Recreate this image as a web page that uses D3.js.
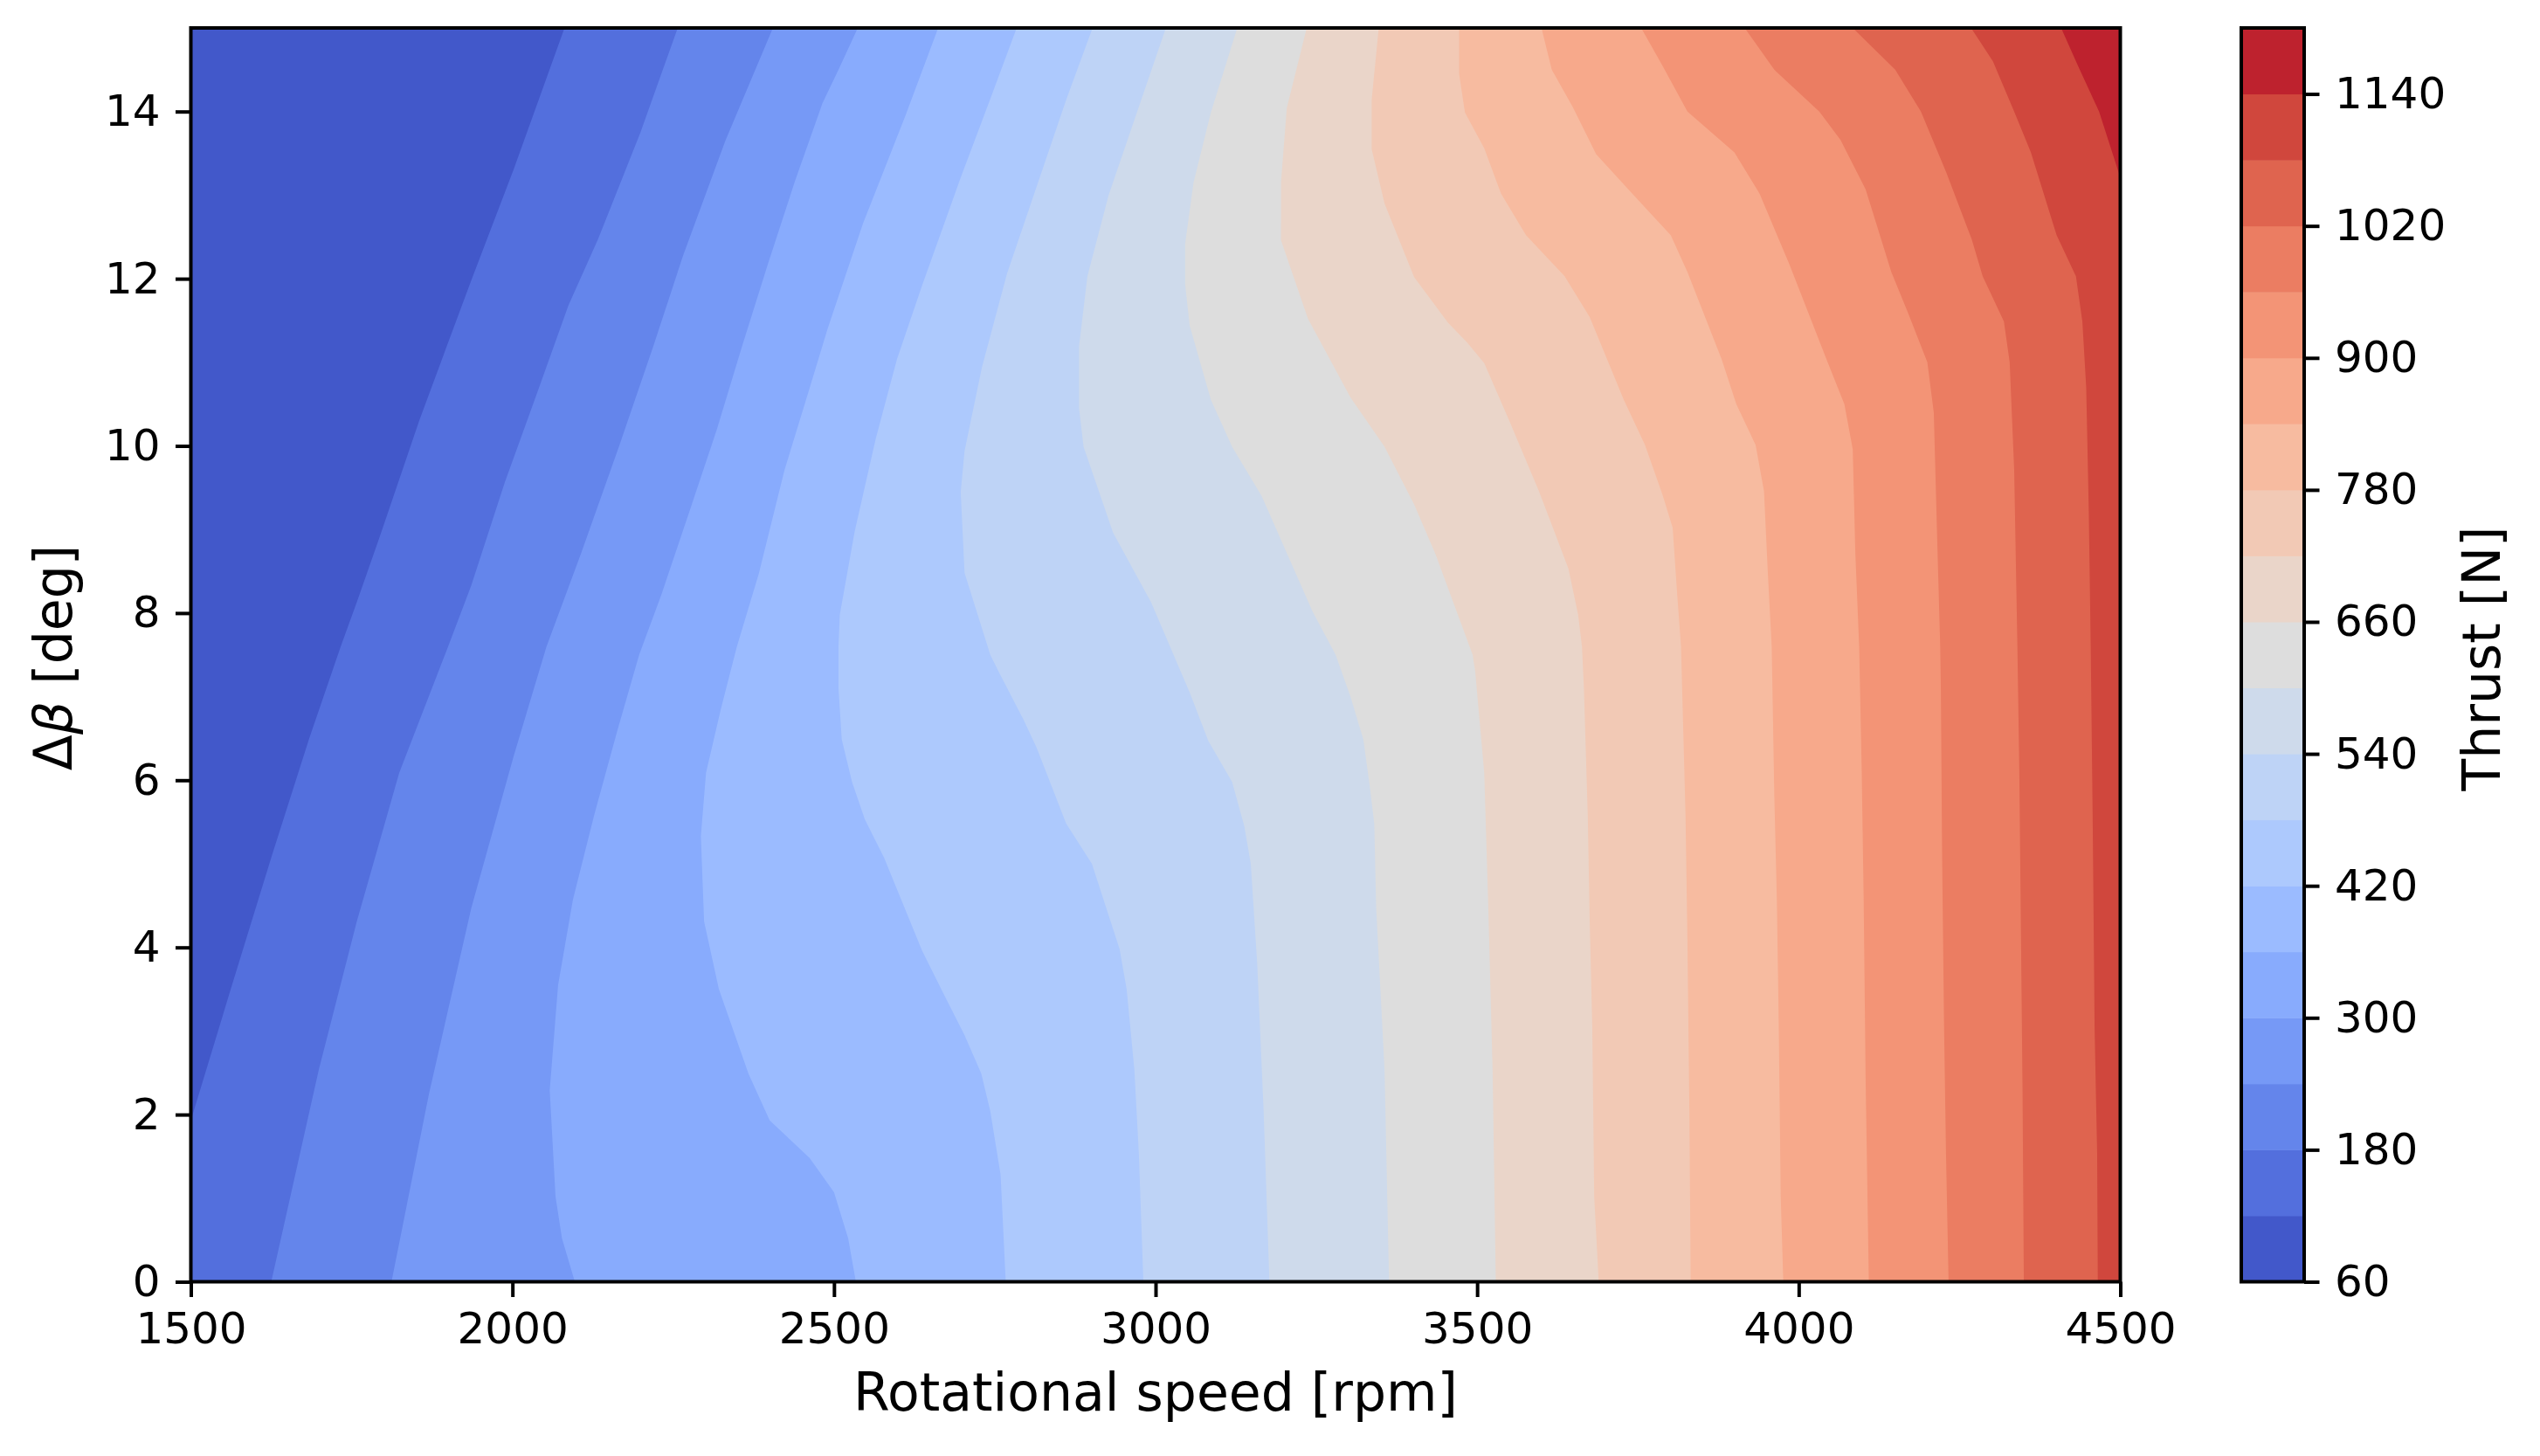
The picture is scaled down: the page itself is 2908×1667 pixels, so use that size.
<!DOCTYPE html>
<html>
<head>
<meta charset="utf-8">
<script src="https://cdn.jsdelivr.net/npm/d3@7"></script>
<style>
body { margin: 0; background: #fff; }
text { font-family: "DejaVu Sans", sans-serif; fill: #000; }
</style>
</head>
<body>
<svg id="chart" width="2908" height="1667"></svg>
<script>
// contour levels [N] and ticks
const levels = [60, 120, 180, 240, 300, 360, 420, 480, 540, 600, 660, 720, 780, 840, 900, 960, 1020, 1080, 1140, 1200];
const colorbarTicks = [60, 180, 300, 420, 540, 660, 780, 900, 1020, 1140];
const rpmTicks = [1500, 2000, 2500, 3000, 3500, 4000, 4500];
const betaTicks = [0, 2, 4, 6, 8, 10, 12, 14];

// isolines: [rpm, delta beta]
const iso120 = [[1500, 1.93], [1562, 3.5], [1626, 5.1], [1684, 6.5], [1733, 7.6], [1758, 8.13], [1794, 8.92], [1855, 10.3], [1893, 11.09], [1936, 11.98], [2002, 13.31], [2081, 15]];
const iso180 = [[1625, 0], [1699, 2.54], [1758, 4.31], [1824, 6.09], [1900, 7.6], [1936, 8.33], [1988, 9.56], [2041, 10.69], [2087, 11.68], [2133, 12.47], [2199, 13.75], [2257, 15]];
const iso240 = [[1812, 0], [1870, 2.24], [1936, 4.47], [2002, 6.29], [2053, 7.6], [2107, 8.72], [2166, 10.0], [2219, 11.19], [2265, 12.27], [2331, 13.65], [2405, 15]];
const iso300 = [[2097, 0], [2077, 0.52], [2067, 1.02], [2058, 2.29], [2071, 3.55], [2094, 4.57], [2127, 5.58], [2163, 6.59], [2197, 7.5], [2232, 8.23], [2275, 9.21], [2318, 10.2], [2357, 11.19], [2397, 12.17], [2439, 13.16], [2482, 14.1], [2507, 14.5], [2537, 15]];
const iso360 = [[2534, 0], [2522, 0.52], [2500, 1.07], [2462, 1.48], [2400, 1.93], [2367, 2.49], [2321, 3.5], [2298, 4.31], [2293, 5.33], [2301, 6.09], [2324, 6.85], [2349, 7.6], [2383, 8.47], [2423, 9.71], [2462, 10.69], [2490, 11.4], [2545, 12.66], [2611, 13.95], [2662, 15]];
const iso420 = [[2767, 0], [2759, 1.28], [2743, 2.04], [2729, 2.49], [2703, 2.95], [2670, 3.45], [2637, 3.96], [2578, 5.07], [2548, 5.53], [2528, 5.98], [2512, 6.49], [2507, 7.1], [2507, 7.6], [2509, 7.98], [2532, 8.97], [2565, 10.09], [2598, 11.04], [2637, 11.92], [2697, 13.21], [2743, 14.15], [2784, 15]];
const iso480 = [[2981, 0], [2974, 1.53], [2967, 2.54], [2955, 3.5], [2944, 3.98], [2901, 5.0], [2861, 5.48], [2815, 6.39], [2795, 6.72], [2756, 7.3], [2743, 7.5], [2703, 8.48], [2697, 9.45], [2703, 9.94], [2730, 10.94], [2769, 12.06], [2815, 13.1], [2861, 14.14], [2902, 15]];
const iso540 = [[3177, 0], [3168, 2.04], [3158, 3.81], [3148, 5.0], [3138, 5.45], [3119, 5.98], [3082, 6.47], [3053, 7.05], [3028, 7.5], [2993, 8.13], [2934, 8.96], [2888, 9.99], [2881, 10.45], [2881, 11.19], [2894, 12.03], [2927, 13.0], [2967, 13.9], [3016, 15]];
const iso600 = [[3363, 0], [3356, 2.54], [3343, 4.47], [3340, 5.48], [3333, 5.93], [3323, 6.49], [3303, 7.0], [3280, 7.5], [3244, 8.02], [3165, 9.4], [3119, 9.99], [3086, 10.55], [3053, 11.44], [3046, 11.93], [3046, 12.42], [3059, 13.15], [3086, 13.99], [3127, 15]];
const iso660 = [[3529, 0], [3524, 2.54], [3517, 4.57], [3511, 6.09], [3497, 7.3], [3493, 7.5], [3435, 8.71], [3402, 9.3], [3356, 9.99], [3303, 10.58], [3237, 11.52], [3195, 12.46], [3195, 13.15], [3204, 14.04], [3235, 15]];
const iso720 = [[3689, 0], [3682, 1.02], [3679, 3.05], [3675, 4.31], [3672, 5.58], [3666, 7.1], [3663, 7.6], [3657, 7.98], [3642, 8.53], [3596, 9.46], [3550, 10.3], [3511, 10.99], [3484, 11.24], [3455, 11.47], [3402, 12.02], [3356, 12.9], [3336, 13.55], [3336, 14.14], [3347, 15]];
const iso780 = [[3832, 0], [3830, 2.04], [3827, 4.06], [3824, 5.58], [3817, 7.6], [3811, 8.23], [3804, 9.02], [3788, 9.42], [3761, 10.01], [3728, 10.55], [3675, 11.54], [3636, 12.03], [3576, 12.52], [3537, 13.02], [3511, 13.56], [3481, 13.99], [3472, 14.45], [3472, 15]];
const iso840 = [[3976, 0], [3972, 1.02], [3969, 3.05], [3966, 4.57], [3962, 5.83], [3958, 7.6], [3952, 8.48], [3946, 9.46], [3933, 10.01], [3903, 10.5], [3880, 11.04], [3827, 12.08], [3801, 12.52], [3735, 13.07], [3685, 13.49], [3649, 14.05], [3616, 14.5], [3600, 15]];
const iso900 = [[4109, 0], [4104, 2.44], [4101, 4.57], [4098, 6.09], [4094, 7.6], [4088, 8.72], [4084, 9.96], [4071, 10.5], [4045, 11.0], [3985, 12.18], [3939, 13.02], [3900, 13.51], [3827, 14.0], [3788, 14.55], [3755, 15]];
const iso960 = [[4233, 0], [4229, 1.53], [4226, 3.05], [4223, 5.07], [4221, 7.1], [4220, 7.6], [4215, 8.97], [4210, 10.4], [4200, 11.0], [4170, 11.59], [4144, 12.08], [4104, 13.07], [4065, 13.66], [4032, 14.0], [3962, 14.5], [3916, 15]];
const iso1020 = [[4350, 0], [4348, 2.29], [4345, 4.57], [4343, 6.09], [4340, 7.6], [4335, 9.71], [4328, 11.0], [4319, 11.49], [4286, 12.03], [4269, 12.47], [4230, 13.26], [4190, 14.0], [4150, 14.5], [4084, 15]];
const iso1080 = [[4465, 0], [4464, 1.53], [4460, 3.05], [4457, 5.58], [4454, 7.6], [4451, 9.22], [4447, 10.7], [4441, 11.49], [4431, 12.03], [4401, 12.52], [4361, 13.51], [4335, 14.0], [4302, 14.6], [4268, 15]];
const iso1140 = [[4500, 13.21], [4467, 14.0], [4434, 14.55], [4408, 15]];

const isolines = [
    { level: 120, pts: iso120 }, { level: 180, pts: iso180 }, { level: 240, pts: iso240 },
    { level: 300, pts: iso300 }, { level: 360, pts: iso360 }, { level: 420, pts: iso420 },
    { level: 480, pts: iso480 }, { level: 540, pts: iso540 }, { level: 600, pts: iso600 },
    { level: 660, pts: iso660 }, { level: 720, pts: iso720 }, { level: 780, pts: iso780 },
    { level: 840, pts: iso840 }, { level: 900, pts: iso900 }, { level: 960, pts: iso960 },
    { level: 1020, pts: iso1020 }, { level: 1080, pts: iso1080 }, { level: 1140, pts: iso1140 }
];

// matplotlib coolwarm control points
const coolwarm = [
    [0.2298, 0.2987, 0.7537], [0.2662, 0.3531, 0.8015], [0.3039, 0.4065, 0.8450], [0.3428, 0.4588, 0.8837],
    [0.3830, 0.5094, 0.9174], [0.4244, 0.5581, 0.9456], [0.4667, 0.6046, 0.9682], [0.5096, 0.6483, 0.9848],
    [0.5530, 0.6889, 0.9954], [0.5963, 0.7261, 0.9998], [0.6392, 0.7596, 0.9982], [0.6813, 0.7890, 0.9904],
    [0.7222, 0.8140, 0.9766], [0.7615, 0.8343, 0.9569], [0.7987, 0.8498, 0.9317], [0.8335, 0.8602, 0.9011],
    [0.8654, 0.8654, 0.8654], [0.8978, 0.8489, 0.8209], [0.9241, 0.8274, 0.7745], [0.9445, 0.8009, 0.7267],
    [0.9589, 0.7698, 0.6780], [0.9673, 0.7341, 0.6288], [0.9700, 0.6943, 0.5794], [0.9668, 0.6504, 0.5303],
    [0.9580, 0.6028, 0.4818], [0.9437, 0.5518, 0.4342], [0.9239, 0.4973, 0.3880], [0.8990, 0.4396, 0.3432],
    [0.8692, 0.3783, 0.3003], [0.8346, 0.3129, 0.2593], [0.7956, 0.2413, 0.2205], [0.7525, 0.1572, 0.1841],
    [0.7057, 0.0156, 0.1502]
].map(c => d3.rgb(c[0] * 255, c[1] * 255, c[2] * 255));
const cmap = d3.piecewise(d3.interpolateRgb, coolwarm);

function bandColor(i) {
    //midpoint of band i, normalised over the level range
    var mid = (levels[i] + levels[i + 1]) / 2;
    return cmap((mid - levels[0]) / (levels[levels.length - 1] - levels[0]));
}

const svg = d3.select("#chart");
const plot = { left: 218.5, right: 2427.5, top: 32, bottom: 1467.5 };
const x = d3.scaleLinear().domain([1500, 4500]).range([plot.left, plot.right]);
const y = d3.scaleLinear().domain([0, 15]).range([plot.bottom, plot.top]);
const rpmMin = 1500, rpmMax = 4500, betaMax = 15;

svg.append("defs").append("clipPath").attr("id", "plotClip")
    .append("rect")
    .attr("x", plot.left).attr("y", plot.top)
    .attr("width", plot.right - plot.left).attr("height", plot.bottom - plot.top);

var field = svg.append("g").attr("clip-path", "url(#plotClip)");

// lowest band fills the whole area, then each level paints what lies above it
field.append("rect")
    .attr("x", plot.left).attr("y", plot.top)
    .attr("width", plot.right - plot.left).attr("height", plot.bottom - plot.top)
    .style("fill", bandColor(0));

function regionAbove(pts) {
    var first = pts[0], last = pts[pts.length - 1];
    var poly = pts.slice();
    if (last[1] === betaMax) poly.push([rpmMax, betaMax]);
    poly.push([rpmMax, 0]);
    if (first[0] === rpmMin) poly.push([rpmMin, 0]);
    return poly;
}

var line = d3.line().x(d => x(d[0])).y(d => y(d[1]));

field.selectAll("path.band")
    .data(isolines)
    .enter()
    .append("path")
    .attr("class", "band")
    .attr("d", d => line(regionAbove(d.pts)) + "Z")
    .style("fill", d => bandColor(levels.indexOf(d.level)));

// axes
function styleAxis(g) {
    g.select(".domain").remove();
    g.selectAll(".tick line").attr("stroke", "#000").attr("stroke-width", 4);
    g.selectAll(".tick text").attr("font-family", "DejaVu Sans").attr("font-size", 50).style("fill", "#000");
}

svg.append("g")
    .attr("transform", "translate(0," + plot.bottom + ")")
    .call(d3.axisBottom(x).tickValues(rpmTicks).tickSize(17.5).tickPadding(17.5).tickFormat(d3.format("d")))
    .call(styleAxis);

svg.append("g")
    .attr("transform", "translate(" + plot.left + ",0)")
    .call(d3.axisLeft(y).tickValues(betaTicks).tickSize(17.5).tickPadding(17.5).tickFormat(d3.format("d")))
    .call(styleAxis);

svg.append("rect")
    .attr("x", plot.left).attr("y", plot.top)
    .attr("width", plot.right - plot.left).attr("height", plot.bottom - plot.top)
    .attr("fill", "none").attr("stroke", "#000").attr("stroke-width", 4);

svg.append("text")
    .attr("x", (plot.left + plot.right) / 2).attr("y", 1615)
    .attr("text-anchor", "middle").attr("font-size", 60)
    .text("Rotational speed [rpm]");

var ylab = svg.append("text")
    .attr("transform", "translate(82,753) rotate(-90)")
    .attr("text-anchor", "middle").attr("font-size", 60);
ylab.append("tspan").text("\u0394");
ylab.append("tspan").attr("font-style", "italic").text("\u03b2");
ylab.append("tspan").text(" [deg]");

// colorbar
const cbar = { left: 2566, width: 72 };
const cb = d3.scaleLinear().domain([levels[0], levels[levels.length - 1]]).range([plot.bottom, plot.top]);

svg.append("g").selectAll("rect")
    .data(levels.slice(0, -1))
    .enter()
    .append("rect")
    .attr("x", cbar.left)
    .attr("y", (d, i) => cb(levels[i + 1]))
    .attr("width", cbar.width)
    .attr("height", (d, i) => cb(levels[i]) - cb(levels[i + 1]) + 0.5)
    .style("fill", (d, i) => bandColor(i));

svg.append("g")
    .attr("transform", "translate(" + (cbar.left + cbar.width) + ",0)")
    .call(d3.axisRight(cb).tickValues(colorbarTicks).tickSize(17.5).tickPadding(17.5).tickFormat(d3.format("d")))
    .call(styleAxis);

svg.append("rect")
    .attr("x", cbar.left).attr("y", plot.top)
    .attr("width", cbar.width).attr("height", plot.bottom - plot.top)
    .attr("fill", "none").attr("stroke", "#000").attr("stroke-width", 4);

svg.append("text")
    .attr("transform", "translate(2862,754) rotate(-90)")
    .attr("text-anchor", "middle").attr("font-size", 60)
    .text("Thrust [N]");
</script>
</body>
</html>
